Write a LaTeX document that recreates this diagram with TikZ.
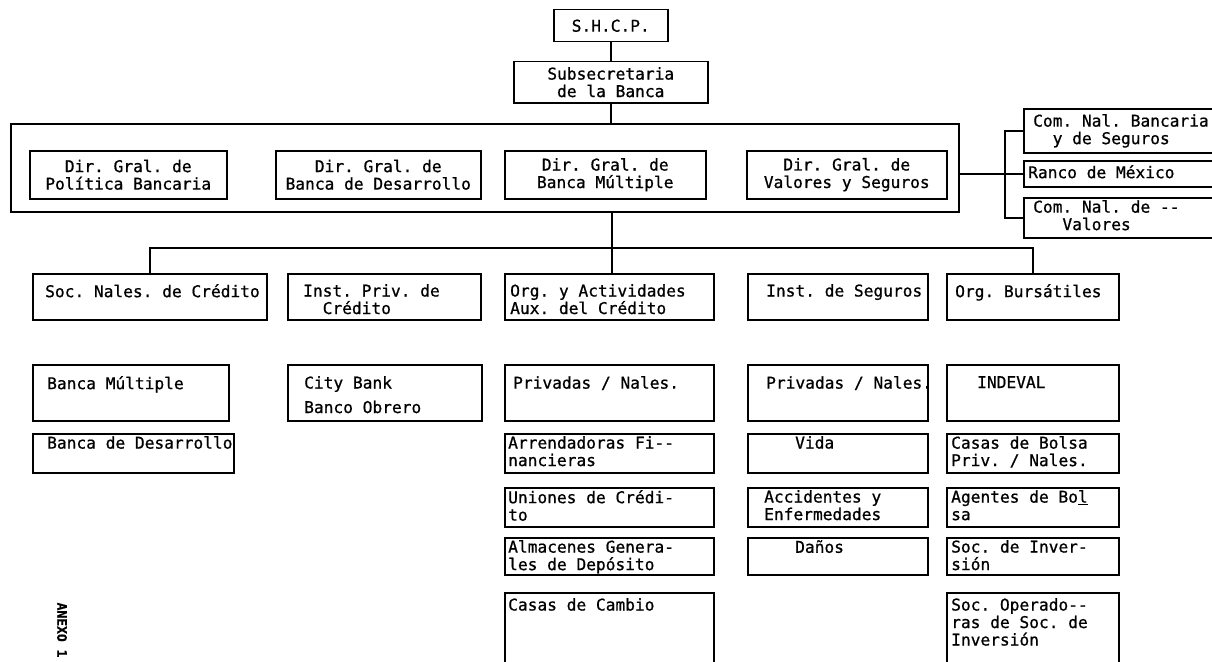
\documentclass[tikz,border=0pt]{standalone}
\usepackage{fontspec}
\setmonofont[FakeBold=0.8]{DejaVu Sans Mono}
\tikzset{
	orgbox/.style={draw, line width=1.5pt, inner sep=0pt, anchor=north west},
	orgfont/.style={font=\ttfamily\fontsize{16.2}{17.5}\selectfont},
	orgtext/.style={orgfont, inner sep=0pt, anchor=north west, align=left},
	link/.style={line width=1.7pt}
}

\begin{document}
\begin{tikzpicture}[x=1pt, y=-1pt]
        \useasboundingbox (0,0) rectangle (1212,661);

        % Top
        \node[orgbox, orgfont, minimum width=114pt, minimum height=32pt] (shcp) at (553,9) {S.H.C.P.};
        \node[orgbox, orgfont, align=center, minimum width=194pt, minimum height=41pt] (subsec) at (513,61) {Subsecretaria\\de la Banca};

        % Direcciones generales
        \node[orgbox, minimum width=948pt, minimum height=88pt] (frame) at (10,123) {};
        \node[orgbox, orgfont, align=center, minimum width=197pt, minimum height=48pt] (dpol) at (29,150) {Dir. Gral. de\\Política Bancaria};
        \node[orgbox, orgfont, align=center, minimum width=205pt, minimum height=48pt] (ddes) at (275,150) {Dir. Gral. de\\Banca de Desarrollo};
        \node[orgbox, orgfont, align=center, minimum width=201pt, minimum height=48pt] (dmul) at (504,150) {Dir. Gral. de\\Banca Múltiple};
        \node[orgbox, orgfont, align=center, minimum width=200pt, minimum height=48pt] (dval) at (746,150) {Dir. Gral. de\\Valores y Seguros};

        % Comisiones
        \node[orgbox, minimum width=190pt, minimum height=44pt] (cnb) at (1023,108) {};
        \node[orgtext] (cnbt) at (1033,114) {Com. Nal. Bancaria\\\phantom{xx}y de Seguros};
        \node[orgbox, minimum width=190pt, minimum height=26pt] (banxico) at (1023,160) {};
        \node[orgtext] (banxicot) at (1028,165) {Ranco de México};
        \node[orgbox, minimum width=190pt, minimum height=40pt] (cnv) at (1023,197) {};
        \node[orgtext] (cnvt) at (1033,200) {Com. Nal. de --\\\phantom{xxx}Valores};

        % Second row
        \node[orgbox, minimum width=234pt, minimum height=46pt] (soc) at (32,273) {};
        \node[orgtext] (soct) at (45,284) {Soc. Nales. de Crédito};
        \node[orgbox, minimum width=193pt, minimum height=46pt] (ipc) at (287,273) {};
        \node[orgtext] (ipct) at (303,284) {Inst. Priv. de\\\phantom{xx}Crédito};
        \node[orgbox, minimum width=209pt, minimum height=46pt] (oac) at (504,273) {};
        \node[orgtext] (oact) at (510,284) {Org. y Actividades\\Aux. del Crédito};
        \node[orgbox, minimum width=180pt, minimum height=46pt] (ise) at (747,273) {};
        \node[orgtext] (iset) at (766,284) {Inst. de Seguros};
        \node[orgbox, minimum width=172pt, minimum height=46pt] (obu) at (946,273) {};
        \node[orgtext] (obut) at (955,284) {Org. Bursátiles};

        % Third row
        \node[orgbox, minimum width=196pt, minimum height=56pt] (bmu) at (32,364) {};
        \node[orgtext] (bmut) at (47,376) {Banca Múltiple};
        \node[orgbox, minimum width=194pt, minimum height=56pt] (city) at (287,364) {};
        \node[orgtext] (cityt) at (304,376) {City Bank\\[7pt]Banco Obrero};
        \node[orgbox, minimum width=209pt, minimum height=56pt] (pn3) at (504,364) {};
        \node[orgtext] (pn3t) at (513,376) {Privadas / Nales.};
        \node[orgbox, minimum width=180pt, minimum height=56pt] (pn4) at (747,364) {};
        \node[orgtext] (pn4t) at (766,376) {Privadas / Nales.};
        \node[orgbox, minimum width=172pt, minimum height=56pt] (indeval) at (946,364) {};
        \node[orgtext] (indevalt) at (977,376) {INDEVAL};

        % Fourth row
        \node[orgbox, minimum width=201pt, minimum height=39pt] (bde) at (32,433) {};
        \node[orgtext] (bdet) at (47,436) {Banca de Desarrollo};
        \node[orgbox, minimum width=209pt, minimum height=39pt] (arr) at (504,433) {};
        \node[orgtext] (arrt) at (508,436) {Arrendadoras Fi--\\nancieras};
        \node[orgbox, minimum width=180pt, minimum height=39pt] (vida) at (747,433) {};
        \node[orgtext] (vidat) at (795,436) {Vida};
        \node[orgbox, minimum width=172pt, minimum height=39pt] (cbo) at (946,433) {};
        \node[orgtext] (cbot) at (951,436) {Casas de Bolsa\\Priv. / Nales.};

        % Fifth row
        \node[orgbox, minimum width=209pt, minimum height=39pt] (uni) at (504,487) {};
        \node[orgtext] (unit) at (508,490) {Uniones de Crédi-\\to};
        \node[orgbox, minimum width=180pt, minimum height=39pt] (acc) at (747,487) {};
        \node[orgtext] (acct) at (764,490) {Accidentes y\\Enfermedades};
        \node[orgbox, minimum width=172pt, minimum height=39pt] (age) at (946,487) {};
        \node[orgtext] (aget) at (951,490) {Agentes de Bo\underline{l}\\sa};

        % Sixth row
        \node[orgbox, minimum width=209pt, minimum height=37pt] (alm) at (504,537) {};
        \node[orgtext] (almt) at (508,540) {Almacenes Genera-\\les de Depósito};
        \node[orgbox, minimum width=180pt, minimum height=37pt] (dan) at (747,537) {};
        \node[orgtext] (dant) at (795,540) {Daños};
        \node[orgbox, minimum width=172pt, minimum height=37pt] (sinv) at (946,537) {};
        \node[orgtext] (sinvt) at (951,540) {Soc. de Inver-\\sión};

        % Last row, cut by the page
        \node[orgbox, minimum width=209pt, minimum height=80pt] (cam) at (504,592) {};
        \node[orgtext] (camt) at (508,598) {Casas de Cambio};
        \node[orgbox, minimum width=172pt, minimum height=80pt] (soper) at (946,592) {};
        \node[orgtext] (sopert) at (951,598) {Soc. Operado--\\ras de Soc. de\\Inversión};

        \node[font=\ttfamily\bfseries\fontsize{13}{13}\selectfont, rotate=-90, inner sep=0pt] (anexo) at (62,630) {ANEXO 1};

        % Connectors
        \coordinate (brk) at (1005,172);
        \coordinate (bus) at (612,248);
        \draw[link] (shcp.south) -- (subsec.north);
        \draw[link] (subsec.south) -- (subsec.south |- frame.north);
        \draw[link] (frame.east |- banxico.west) -- (banxico.west);
        \draw[link] (cnb.west) -| (brk) |- (cnv.west);
        \draw[link] (bus |- frame.south) -- (bus |- oac.north);
        \draw[link] (soc.north) |- (bus) -| (obu.north);

    \end{tikzpicture}
\end{document}
